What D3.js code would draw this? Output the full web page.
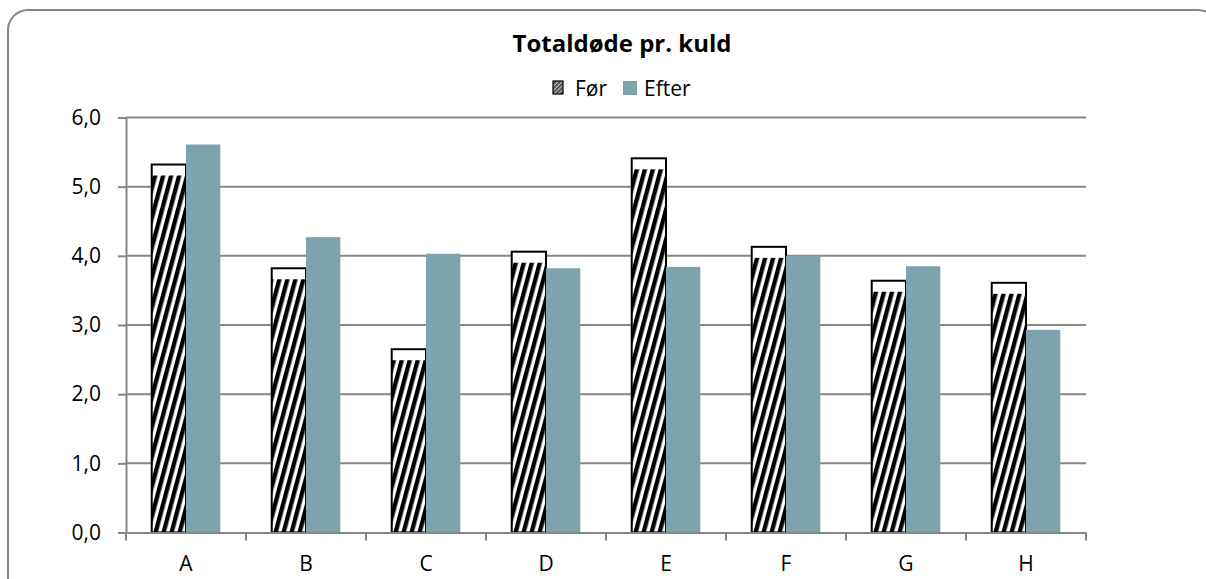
<!DOCTYPE html>
<html>
<head>
<meta charset="utf-8">
<script src="https://cdn.jsdelivr.net/npm/d3@7"></script>
<style>
  html, body { margin: 0; padding: 0; background: #fff; }
  svg { display: block; }
  text { font-family: "Open Sans", "Liberation Sans", sans-serif; fill: #000; }
</style>
</head>
<body>
<svg id="chart" width="1206" height="579"></svg>
<script>
const categories = ["A", "B", "C", "D", "E", "F", "G", "H"];
const seriesNames = ["Før", "Efter"];
const forValues = [5.32, 3.82, 2.65, 4.06, 5.41, 4.13, 3.64, 3.61];
const efterValues = [5.61, 4.27, 4.03, 3.82, 3.84, 4.00, 3.85, 2.93];
const yTicks = [0, 1, 2, 3, 4, 5, 6];
const title = "Totaldøde pr. kuld";

const W = 1206, H = 579;
const margin = { left: 126, right: 120, top: 117.5, bottom: 46.5 };
const svg = d3.select("#chart");

// Outer rounded border
svg.append("rect")
  .attr("x", 8).attr("y", 10)
  .attr("width", 1210).attr("height", 590)
  .attr("rx", 20).attr("ry", 20)
  .attr("fill", "#fff").attr("stroke", "#868686").attr("stroke-width", 2);

const defs = svg.append("defs");
const pat = defs.append("pattern")
  .attr("id", "hatch")
  .attr("patternUnits", "userSpaceOnUse")
  .attr("width", 8).attr("height", 8)
  .attr("patternTransform", "skewX(-15)");
pat.append("rect").attr("width", 8).attr("height", 8).attr("fill", "#fff");
pat.append("rect").attr("x", 0).attr("width", 4.5).attr("height", 8).attr("fill", "#000");

const patSmall = defs.append("pattern")
  .attr("id", "hatchSmall")
  .attr("patternUnits", "userSpaceOnUse")
  .attr("width", 3).attr("height", 3)
  .attr("patternTransform", "rotate(45)");
patSmall.append("rect").attr("width", 3).attr("height", 3).attr("fill", "#bbb");
patSmall.append("rect").attr("width", 1.5).attr("height", 3).attr("fill", "#333");

const x0 = d3.scaleBand().domain(categories).range([margin.left, W - margin.right]).padding(0);
const groupW = x0.bandwidth() * 2 / 3.5;
const x1 = d3.scaleBand().domain(seriesNames).range([0, groupW]).padding(0);
const y = d3.scaleLinear().domain([0, 6]).range([H - margin.bottom, margin.top]);

// Gridlines
svg.append("g").selectAll("line").data(yTicks.filter(d => d > 0)).join("line")
  .attr("x1", margin.left).attr("x2", W - margin.right)
  .attr("y1", d => y(d)).attr("y2", d => y(d))
  .attr("stroke", "#868686").attr("stroke-width", 2);

// Y axis
const yAxis = d3.axisLeft(y).tickValues(yTicks).tickSize(8).tickPadding(17)
  .tickFormat(d => d3.format(".1f")(d).replace(".", ","));
const gy = svg.append("g").attr("transform", `translate(${margin.left},0)`).call(yAxis);
gy.select(".domain").attr("stroke", "#868686").attr("stroke-width", 2);
gy.selectAll(".tick line").attr("stroke", "#868686").attr("stroke-width", 2);
gy.selectAll(".tick text").attr("font-size", 21).attr("font-family", "Open Sans").attr("fill", "#000");

// Bars
const data = categories.map((c, i) => ({ cat: c, vals: [forValues[i], efterValues[i]] }));
const off = (x0.bandwidth() - groupW) / 2;
const gBars = svg.append("g");
data.forEach(d => {
  const gx = x0(d.cat) + off;
  const v0 = d.vals[0];
  gBars.append("rect")
    .attr("x", gx + x1("Før")).attr("y", y(v0))
    .attr("width", x1.bandwidth()).attr("height", y(0) - y(v0))
    .attr("fill", "url(#hatch)");
  gBars.append("rect")
    .attr("x", gx + x1("Før")).attr("y", y(v0))
    .attr("width", x1.bandwidth()).attr("height", 11)
    .attr("fill", "#fff");
  gBars.append("rect")
    .attr("x", gx + x1("Før")).attr("y", y(v0))
    .attr("width", x1.bandwidth()).attr("height", y(0) - y(v0))
    .attr("fill", "none").attr("stroke", "#000").attr("stroke-width", 2);
  const v1 = d.vals[1];
  gBars.append("rect")
    .attr("x", gx + x1("Efter")).attr("y", y(v1))
    .attr("width", x1.bandwidth()).attr("height", y(0) - y(v1))
    .attr("fill", "#7ba4ac");
});

// X axis
const xAxis = d3.axisBottom(x0).tickSize(0).tickPadding(24);
const gxa = svg.append("g").attr("transform", `translate(0,${y(0)})`).call(xAxis);
gxa.select(".domain").attr("stroke", "#868686").attr("stroke-width", 2);
gxa.selectAll(".tick text").attr("font-size", 21).attr("font-family", "Open Sans").attr("fill", "#000");
const bounds = categories.map(c => x0(c)).concat([x0.range()[1]]);
gxa.append("g").selectAll("line").data(bounds).join("line")
  .attr("x1", d => d).attr("x2", d => d).attr("y1", 0).attr("y2", 8)
  .attr("stroke", "#868686").attr("stroke-width", 2);

// Title
svg.append("text").attr("x", 622).attr("y", 52)
  .attr("text-anchor", "middle").attr("font-size", 24).attr("font-weight", "bold")
  .text(title);

// Legend
const leg = svg.append("g");
leg.append("rect").attr("x", 553).attr("y", 81).attr("width", 10).attr("height", 13)
  .attr("fill", "url(#hatchSmall)").attr("stroke", "#000").attr("stroke-width", 1.2);
leg.append("text").attr("x", 575).attr("y", 96).attr("font-size", 21).text(seriesNames[0]);
leg.append("rect").attr("x", 623).attr("y", 81).attr("width", 14).attr("height", 14)
  .attr("fill", "#7ba4ac");
leg.append("text").attr("x", 644).attr("y", 96).attr("font-size", 21).text(seriesNames[1]);
</script>
</body>
</html>
